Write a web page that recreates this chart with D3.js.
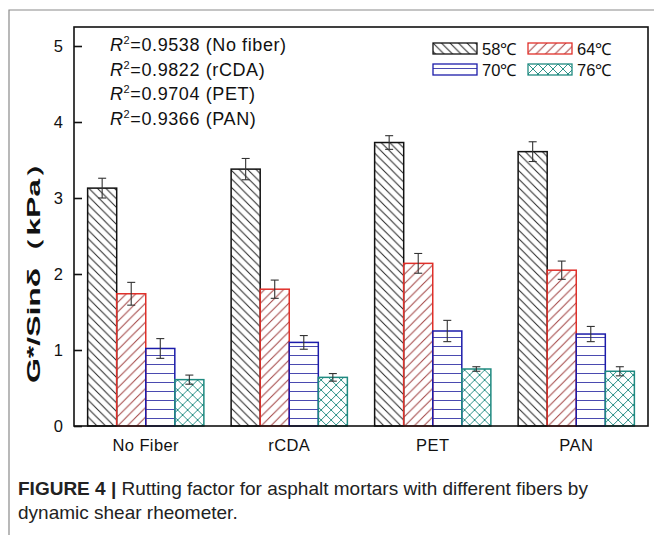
<!DOCTYPE html>
<html>
<head>
    <title>Rutting factor</title>
    <script src="https://d3js.org/d3.v7.min.js"></script>
    <style>
      body { margin: 0; background: #fff; }
    </style>
</head>
<body>
    <div id="chart"></div>
    <script>

const fibers = ["No Fiber", "rCDA", "PET", "PAN"];
const temps = ["58℃", "64℃", "70℃", "76℃"];
// values per fiber, in order of temps
const values = [
  [3.13, 1.74, 1.02, 0.61],
  [3.38, 1.80, 1.10, 0.64],
  [3.73, 2.14, 1.25, 0.75],
  [3.61, 2.05, 1.21, 0.72]
];
const errors = [
  [0.13, 0.15, 0.13, 0.06],
  [0.14, 0.12, 0.09, 0.05],
  [0.09, 0.13, 0.14, 0.03],
  [0.13, 0.12, 0.10, 0.06]
];
const fits = [
  ["0.9538", "No fiber"],
  ["0.9822", "rCDA"],
  ["0.9704", "PET"],
  ["0.9366", "PAN"]
];
const yTicks = [0, 1, 2, 3, 4, 5];

const width = 654, height = 535;
const plotLeft = 74, plotRight = 648, plotTop = 27, plotBottom = 426;

const svg = d3.select("#chart").append("svg")
    .attr("width", width)
    .attr("height", height)
    .attr("font-family", "Liberation Sans, Arial, sans-serif");

// patterns
const defs = svg.append("defs");
const pat = [
  {id: "p58", stroke: "#111", line: "#222", size: 8.5, d: "M0,0L8.5,8.5M-2,6.5L2,10.5M6.5,-2L10.5,2"},
  {id: "p64", stroke: "#e0302a", line: "#a04040", size: 9.5, d: "M0,9.5L9.5,0M-2,2L2,-2M7.5,11.5L11.5,7.5"},
  {id: "p70", stroke: "#1c1caa", line: "#4a4ab0", size: 9, d: "M0,4.5L9,4.5"},
  {id: "p76", stroke: "#1f8a80", line: "#2d9288", size: 10, d: "M0,0L10,10M0,10L10,0"}
];
pat.forEach(p => {
  defs.append("pattern")
      .attr("id", p.id)
      .attr("patternUnits", "userSpaceOnUse")
      .attr("width", p.size)
      .attr("height", p.size)
    .append("path")
      .attr("d", p.d)
      .attr("stroke", p.line)
      .attr("stroke-width", 1)
      .attr("fill", "none");
});

// outer frame of the figure
svg.append("path")
    .attr("d", `M9,${height}V10H${width}`)
    .attr("fill", "none")
    .attr("stroke", "#8a8a8a")
    .attr("stroke-width", 1.2);

const x0 = d3.scaleBand()
    .domain(fibers)
    .range([plotLeft, plotRight])
    .paddingInner(0.19)
    .paddingOuter(0.095);

const x1 = d3.scaleBand()
    .domain(temps)
    .range([0, x0.bandwidth()]);

const y = d3.scaleLinear()
    .domain([0, 5.25])
    .range([plotBottom, plotTop]);

// bars
const group = svg.append("g")
  .selectAll("g")
  .data(fibers)
  .join("g")
    .attr("transform", d => `translate(${x0(d)},0)`);

group.selectAll("rect")
  .data((d, i) => temps.map((t, j) => ({t, j, v: values[i][j], e: errors[i][j]})))
  .join("rect")
    .attr("x", d => x1(d.t))
    .attr("y", d => y(d.v))
    .attr("width", x1.bandwidth())
    .attr("height", d => y(0) - y(d.v))
    .attr("fill", d => `url(#${pat[d.j].id})`)
    .attr("stroke", d => pat[d.j].stroke)
    .attr("stroke-width", 1.5);

// error bars
const err = group.selectAll("g.err")
  .data((d, i) => temps.map((t, j) => ({t, j, v: values[i][j], e: errors[i][j]})))
  .join("g")
    .attr("class", "err")
    .attr("stroke", "#333")
    .attr("stroke-width", 1.1)
    .attr("transform", d => `translate(${x1(d.t) + x1.bandwidth() / 2},0)`);

err.append("line")
    .attr("y1", d => y(d.v + d.e))
    .attr("y2", d => y(d.v - d.e));
err.append("line")
    .attr("x1", -4).attr("x2", 4)
    .attr("y1", d => y(d.v + d.e))
    .attr("y2", d => y(d.v + d.e));
err.append("line")
    .attr("x1", -4).attr("x2", 4)
    .attr("y1", d => y(d.v - d.e))
    .attr("y2", d => y(d.v - d.e));

// plot box
svg.append("rect")
    .attr("x", plotLeft)
    .attr("y", plotTop)
    .attr("width", plotRight - plotLeft)
    .attr("height", plotBottom - plotTop)
    .attr("fill", "none")
    .attr("stroke", "#111")
    .attr("stroke-width", 1.6);

// y axis
const yAxis = svg.append("g")
    .attr("transform", `translate(${plotLeft},0)`)
    .call(d3.axisLeft(y).tickValues(yTicks).tickFormat(d3.format("d"))
      .tickSizeInner(-8).tickSizeOuter(0).tickPadding(11));
yAxis.select(".domain").remove();
yAxis.selectAll(".tick line").attr("stroke", "#111").attr("stroke-width", 1.6);
yAxis.selectAll(".tick text")
    .attr("font-size", 16.5)
    .attr("font-family", "Liberation Sans, Arial, sans-serif")
    .attr("fill", "#111");

// x axis labels
const xAxis = svg.append("g")
    .attr("transform", `translate(0,${plotBottom})`)
    .call(d3.axisBottom(x0).tickSize(0).tickPadding(13));
xAxis.select(".domain").remove();
xAxis.selectAll(".tick text")
    .attr("font-size", 16.5)
    .attr("letter-spacing", 0.4)
    .attr("font-family", "Liberation Sans, Arial, sans-serif")
    .attr("fill", "#111");

// y label
svg.append("text")
    .attr("transform", "translate(40,265) rotate(-90)")
    .attr("text-anchor", "middle")
    .attr("font-size", 18)
    .attr("font-weight", "bold")
    .attr("fill", "#111")
    .attr("textLength", 236)
    .attr("lengthAdjust", "spacingAndGlyphs")
    .text("G*/Sinδ（kPa）");

// R^2 annotations
const fit = svg.append("g")
  .selectAll("text")
  .data(fits)
  .join("text")
    .attr("x", 110)
    .attr("y", (d, i) => 51 + i * 24.6)
    .attr("font-size", 18)
    .attr("letter-spacing", 0.6)
    .attr("fill", "#111");
fit.append("tspan").attr("font-style", "italic").text("R");
fit.append("tspan").attr("font-size", 11).attr("dy", -7).text("2");
fit.append("tspan").attr("dy", 7).text(d => `=${d[0]} (${d[1]})`);

// legend
const legend = svg.append("g")
  .selectAll("g")
  .data(temps)
  .join("g")
    .attr("transform", (d, i) => `translate(${433 + (i % 2) * 95},${43 + Math.floor(i / 2) * 21})`);
legend.append("rect")
    .attr("width", 44)
    .attr("height", 11)
    .attr("fill", (d, i) => `url(#${pat[i].id})`)
    .attr("stroke", (d, i) => pat[i].stroke)
    .attr("stroke-width", 1.3);
legend.append("text")
    .attr("x", 49)
    .attr("y", 12)
    .attr("font-size", 16.5)
    .attr("fill", "#111")
    .text(d => d);

// caption
const cap = svg.append("g")
    .attr("font-family", "Liberation Sans Narrow, Arial Narrow, sans-serif")
    .attr("font-size", 19)
    .attr("fill", "#222");
const line1 = cap.append("text").attr("x", 18).attr("y", 495);
line1.append("tspan").attr("font-weight", "bold").text("FIGURE 4 | ");
line1.append("tspan").text("Rutting factor for asphalt mortars with different fibers by");
cap.append("text").attr("x", 18).attr("y", 519).text("dynamic shear rheometer.");

    </script>
</body>
</html>
